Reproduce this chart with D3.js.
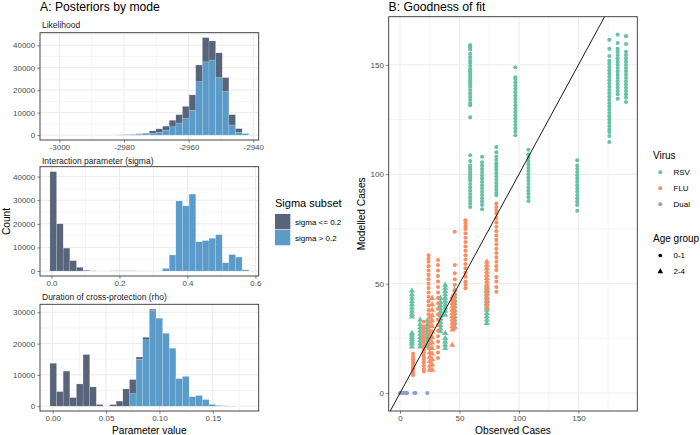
<!DOCTYPE html>
<html><head><meta charset="utf-8">
<script src="https://cdn.jsdelivr.net/npm/d3@7"></script>
<style>body{margin:0;background:#fff}svg{display:block}text{font-family:"Liberation Sans",Arial,Helvetica,sans-serif}</style>
</head><body><svg id="c" width="700" height="435"></svg>
<script>
// ---------------- DATA ----------------
const sigmaGroups = ["sigma <= 0.2", "sigma > 0.2"];
const sigmaColors = ["#576479", "#5A9BC9"];

// Likelihood histogram (30 bins)
const likBinStart = -3002.9, likBinWidth = 2.05;
const likLow  = [0,0,0,0,0,0,0,0,0,0,50,100,100,200,300,1100,1500,1800,2900,3700,5200,6900,7400,10800,8500,11000,6200,4600,1600,0];
const likHigh = [0,0,0,0,0,0,0,0,0,0,50,100,200,400,500,800,1300,2200,3700,5400,7600,11000,23800,32600,33400,25600,19400,4500,1300,700];
const likTicks = [-3000,-2980,-2960,-2940];

// Interaction parameter (sigma)
const sigBinStart = -0.0046, sigBinWidth = 0.0195;
const sigLow  = [42100,20000,9700,4400,1600,300,100,0,0,50,50,0,0,0,0,0,0,0,0,0,0,0,0,0,0,0,0,0,0,0];
const sigHigh = [0,0,0,0,0,0,0,0,0,0,50,100,100,0,0,0,0,1100,6800,29700,27600,32600,12400,12900,13900,15400,3500,7000,5900,500];
const sigTicks = [0,0.2,0.4,0.6];

// Duration of cross-protection (rho)
const rhoBinStart = -0.0026, rhoBinWidth = 0.00621;
const rhoLow  = [13700,4650,11200,2750,7100,16500,6150,530,0,500,1600,5500,4500,700,800,400,0,0,0,0,0,0,0,0,0,0,0,0,0,0];
const rhoHigh = [0,0,0,0,0,0,0,0,0,0,0,0,4000,15000,21200,30600,28100,23300,18500,8800,9500,3000,3400,2100,550,200,100,50,0,0];
const rhoTicks = [0,0.05,0.10,0.15];

// Goodness of fit: [observed, [modelled samples]]
const viruses = ["RSV","FLU","Dual"];
const virusColors = ["#66C2A5","#FC8D62","#8DA0CB"];
const ageGroups = ["0-1","2-4"];
const rsvInfant = [
  [59,[126,131.5,132.5,134,135.5,137,138.5,140,141,142,143,144,145,146,147,148,149.5,151,152,153.5,155,157,158,159]],
  [59,[85,86.5,88,89.5,91,92.5,94,95.5,97,98,99,100,101,102,103,104,106,108.7]],
  [69,[84,86,87.5,89,90.5,92,93.5,95,96.5,98,99.5,101,102.5,104,105.5,108]],
  [81,[90.4,91.5,93,94.5,96,97.5,99,100.5,102,103,104,105,106.5,108,110,112.4]],
  [97,[117.8,119.5,121,122.5,124,125.5,127,128.5,130,131.5,133,134.5,136,137.5,139,140.5,142,143.5,144.3,148.9]],
  [108,[87.8,89.5,91,92.5,94,95.5,97,98.5,100,101.5,103,104.5,106,107.5,109,111.2]],
  [149,[83.3,86,87.5,89,90.5,92,93.5,95,96.5,98,99.5,101,102.5,104,106.4]],
  [176,[114.7,117.5,119.3,120.5,122,123.5,125,126.5,128,129.5,131,132.5,134,135.5,137,138.5,140,141.5,143,144.5,146,147.5,149,150.5,151.9,154,157.3,161.4]],
  [183,[134.5,136.5,138,139.5,141,142.5,144,145.5,147,148.5,150,151.5,153,154.5,156,157.3,160,163.8]],
  [190,[133,135,136.5,138,139.5,141,142.5,144,145.5,147,148.5,150,151.5,153,154.5,156,159.5,163.1]]
];
const rsvChild = [
  [10,[21.2,22.5,23.5,24.5,25.5,26.5,27.3,34.9,36,37.5,39,40.5,42,43.5,45,46.8]],
  [17,[21.2,22.5,24,25.5,27,28.5,30,31.5,33.4]],
  [23,[21.2,22.5,24,25.5,27,28.5,30,31.5,33]],
  [34,[28.1,29.5,31,32.5,34,35.5,37,38.5,40,41.5,43.3]],
  [38,[20.5,22,23.5,25,27.3,35.7,37.5,39,40.5,42,43.5,45,46.5,48,49.4]],
  [46,[30.4,32,33.5,35,36.5,38,39.5,41,42.5,44,45.5,47.1]],
  [73,[31.9,33.5,35,36.5,38,39.5,41,42.5,44,45.5,47,48.6]]
];
const fluInfant = [
  [11,[8.3,9.5,10.5,11.5,12.5,13.5,14.5,15.5,16.5,17.9]],
  [20,[9.9,11,12.5,14,15.5,17,18.5,20,21.5,23,24.5,26,27.5,29,30.4,32.6]],
  [24,[36,38,40,42,44,46,48,50,52,54,56,58,60,61.5,63]],
  [32,[16,18.5,21,23.5,26,28.5,31,33.5,36,38.5,41,43.5,46,48.5,51,53.5,56,58.5,60.8]],
  [46,[29.6,32,34.5,37,39.5,42,44.5,47,49.5,52,54.7,58.5,73.7]],
  [55,[47.9,49.5,51,53.2,55,57,59,61,63,65,67,69,71,73,75,76,77.5,79]],
  [81,[46.3,48.5,51,53,56.2,58,60,62,64,66,68,70,72,74,76,78,80,82,83.5,85,86.6]]
];
const fluChild = [
  [25,[10.6,12.5,14.5,16.5,18.5,20.5,22.5,24.5,26.5,28.5,30.5,32.5,34.5]],
  [27,[10.6,13,15.5,18,20.5,23,25.5,28,30.5,33,35.5,38,40.5,43.3]],
  [44,[22,28.9,30.5,32,33.5,35,36.5,38,39.5,41,42.5,44]],
  [73,[38.8,40.5,42,43.5,45,46.5,48,49.5,51,52.5,54,55.5,57,58.5,60]]
];
const dualInfant = [[0,[0]],[1,[0]],[2,[0]],[3,[0]],[4,[0]],[5,[0]],[6,[0]],[12,[0]],[13,[0]],[23,[0]]];
const fitTicks = [0,50,100,150];

// ---------------- DRAWING ----------------
const svg = d3.select("#c");
const GRID = "#EBEBEB", BORDER = "#333333", TICKTXT = "#4D4D4D";

function txt(x,y,s,size,opts={}){
  const t = svg.append("text").attr("x",x).attr("y",y).text(s).attr("font-size",size)
    .attr("fill",opts.fill||"#000").attr("text-anchor",opts.anchor||"start");
  if(opts.dy) t.attr("dy",opts.dy);
  if(opts.rot) t.attr("transform",`rotate(-90,${x},${y})`);
  return t;
}

function drawPanelFrame(g, x, y, xt, xminor, yt, yminor, box){
  const [L,T,R,B] = box;
  g.append("rect").attr("x",L).attr("y",T).attr("width",R-L).attr("height",B-T).attr("fill","#fff");
  xminor.forEach(v=>g.append("line").attr("x1",x(v)).attr("x2",x(v)).attr("y1",T).attr("y2",B).attr("stroke",GRID).attr("stroke-width",0.5));
  yminor.forEach(v=>g.append("line").attr("y1",y(v)).attr("y2",y(v)).attr("x1",L).attr("x2",R).attr("stroke",GRID).attr("stroke-width",0.5));
  xt.forEach(v=>g.append("line").attr("x1",x(v)).attr("x2",x(v)).attr("y1",T).attr("y2",B).attr("stroke",GRID).attr("stroke-width",1));
  yt.forEach(v=>g.append("line").attr("y1",y(v)).attr("y2",y(v)).attr("x1",L).attr("x2",R).attr("stroke",GRID).attr("stroke-width",1));
}
function drawAxes(g, x, y, xt, yt, box, xfmt, yfmt){
  const [L,T,R,B] = box;
  const ax = d3.axisBottom(x).tickValues(xt).tickFormat(xfmt).tickSize(2.75).tickPadding(2);
  const ay = d3.axisLeft(y).tickValues(yt).tickFormat(yfmt).tickSize(2.75).tickPadding(2);
  const gx = g.append("g").attr("transform",`translate(0,${B})`).call(ax);
  const gy = g.append("g").attr("transform",`translate(${L},0)`).call(ay);
  [gx,gy].forEach(a=>{
    a.select(".domain").remove();
    a.selectAll(".tick line").attr("stroke",BORDER).attr("stroke-width",0.6);
    a.selectAll(".tick text").attr("fill",TICKTXT).attr("font-size",8)
      .attr("font-family",'"Liberation Sans",Arial,sans-serif');
  });
  g.append("rect").attr("x",L).attr("y",T).attr("width",R-L).attr("height",B-T)
    .attr("fill","none").attr("stroke",BORDER).attr("stroke-width",0.9);
}

function histogram(box, start, width, low, high, xt, xminor, xfmt, label, labelY){
  const [L,T,R,B] = box;
  const n = low.length, end = start + n*width, pad = 0.05*(end-start);
  const x = d3.scaleLinear().domain([start-pad, end+pad]).range([L,R]);
  const rows = low.map((v,i)=>({x0:start+i*width, x1:start+(i+1)*width, low:v, high:high[i]}));
  const stack = d3.stack().keys(["high","low"])(rows);
  const maxV = d3.max(rows, r=>r.low+r.high);
  const y = d3.scaleLinear().domain([-0.05*maxV, 1.05*maxV]).range([B,T]);
  const yt = d3.range(0, maxV+1, 10000), yminor = d3.range(5000, 1.05*maxV, 10000);
  const g = svg.append("g");
  drawPanelFrame(g, x, y, xt, xminor, yt, yminor, box);
  const colorOf = {"high":sigmaColors[1], "low":sigmaColors[0]};
  stack.forEach(layer=>{
    g.append("g").selectAll("rect").data(layer.filter(d=>d[1]-d[0]>0)).join("rect")
      .attr("x",d=>x(d.data.x0)).attr("width",d=>x(d.data.x1)-x(d.data.x0))
      .attr("y",d=>y(d[1])).attr("height",d=>y(d[0])-y(d[1]))
      .attr("fill",colorOf[layer.key]).attr("stroke","#ffffff").attr("stroke-opacity",0.3).attr("stroke-width",0.5);
  });
  drawAxes(g, x, y, xt, yt, box, xfmt, d=>String(d));
  txt(L+2, labelY, label, 8.5, {fill:"#1A1A1A"});
}

// Titles
txt(40, 10.5, "A: Posteriors by mode", 12.2);
txt(388.5, 10.5, "B: Goodness of fit", 12.2);

histogram([40,32.7,258.7,140], likBinStart, likBinWidth, likLow, likHigh, likTicks, [-2990,-2970,-2950], d=>String(d), "Likelihood", 28.3);
histogram([40,166.7,258.7,276], sigBinStart, sigBinWidth, sigLow, sigHigh, sigTicks, [0.1,0.3,0.5], d3.format(".1f"), "Interaction parameter (sigma)", 163.5);
histogram([40,304.3,258.7,411], rhoBinStart, rhoBinWidth, rhoLow, rhoHigh, rhoTicks, [0.025,0.075,0.125,0.175], d3.format(".2f"), "Duration of cross-protection (rho)", 299.5);

txt(9.5, 221.5, "Count", 10.2, {anchor:"middle", rot:true});
txt(149.3, 433.5, "Parameter value", 10.2, {anchor:"middle"});

// Sigma legend
txt(275, 207, "Sigma subset", 11);
sigmaGroups.forEach((s,i)=>{
  svg.append("rect").attr("x",275).attr("y",214+i*16).attr("width",15.3).attr("height",15.3).attr("fill",sigmaColors[i]);
  txt(295, 221.7+i*16.5, s, 8, {dy:"0.35em"});
});

// ---------- Panel B ----------
(function(){
  const box = [388.7,16.7,637.3,411];
  const [L,T,R,B] = box;
  const series = [
    {v:0,a:0,d:rsvInfant},{v:0,a:1,d:rsvChild},
    {v:1,a:0,d:fluInfant},{v:1,a:1,d:fluChild},
    {v:2,a:0,d:dualInfant}
  ];
  const pts = series.flatMap(s=>s.d.flatMap(([o,ms])=>ms.map(m=>({obs:o, mod:m, v:s.v, a:s.a}))));
  const xe = d3.extent(pts,p=>p.obs), ye = d3.extent(pts,p=>p.mod);
  const xp = 0.05*(xe[1]-xe[0]), yp = 0.05*(ye[1]-ye[0]);
  const x = d3.scaleLinear().domain([xe[0]-xp, xe[1]+xp]).range([L,R]);
  const y = d3.scaleLinear().domain([ye[0]-yp, ye[1]+yp]).range([B,T]);
  const g = svg.append("g");
  drawPanelFrame(g, x, y, fitTicks, [25,75,125,175], fitTicks, [25,75,125], box);
  svg.append("clipPath").attr("id","clipB").append("rect").attr("x",L).attr("y",T).attr("width",R-L).attr("height",B-T);
  const pg = g.append("g").attr("clip-path","url(#clipB)");
  const circ = d3.symbol().type(d3.symbolCircle).size(13);
  const tri = d3.symbol().type(d3.symbolTriangle).size(16);
  pg.selectAll("path.pt").data(pts).join("path").attr("class","pt")
    .attr("d",p=> p.a===0 ? circ() : tri())
    .attr("transform",p=>`translate(${x(p.obs)},${y(p.mod)})`)
    .attr("fill",p=>virusColors[p.v]);
  const lo = Math.min(x.domain()[0], y.domain()[0]), hi = Math.max(x.domain()[1], y.domain()[1]);
  pg.append("line").attr("x1",x(lo)).attr("y1",y(lo)).attr("x2",x(hi)).attr("y2",y(hi))
    .attr("stroke","#000").attr("stroke-width",0.9);
  drawAxes(g, x, y, fitTicks, fitTicks, box, d=>String(d), d=>String(d));
  txt(365, 213.8, "Modelled Cases", 10.2, {anchor:"middle", rot:true});
  txt(513, 433.5, "Observed Cases", 10.2, {anchor:"middle"});

  // legends
  txt(653, 159, "Virus", 10);
  viruses.forEach((v,i)=>{
    svg.append("circle").attr("cx",660.3).attr("cy",172.3+i*16).attr("r",2).attr("fill",virusColors[i]);
    txt(673.5, 172.3+i*16, v, 8, {dy:"0.35em"});
  });
  txt(653, 242, "Age group", 10);
  ageGroups.forEach((a,i)=>{
    svg.append("path").attr("d", i===0 ? d3.symbol().type(d3.symbolCircle).size(11)() : d3.symbol().type(d3.symbolTriangle).size(14)())
      .attr("transform",`translate(660.3,${255.5+i*16})`).attr("fill","#000");
    txt(673.5, 255.5+i*16, a, 8, {dy:"0.35em"});
  });
})();
</script>
</body></html>
